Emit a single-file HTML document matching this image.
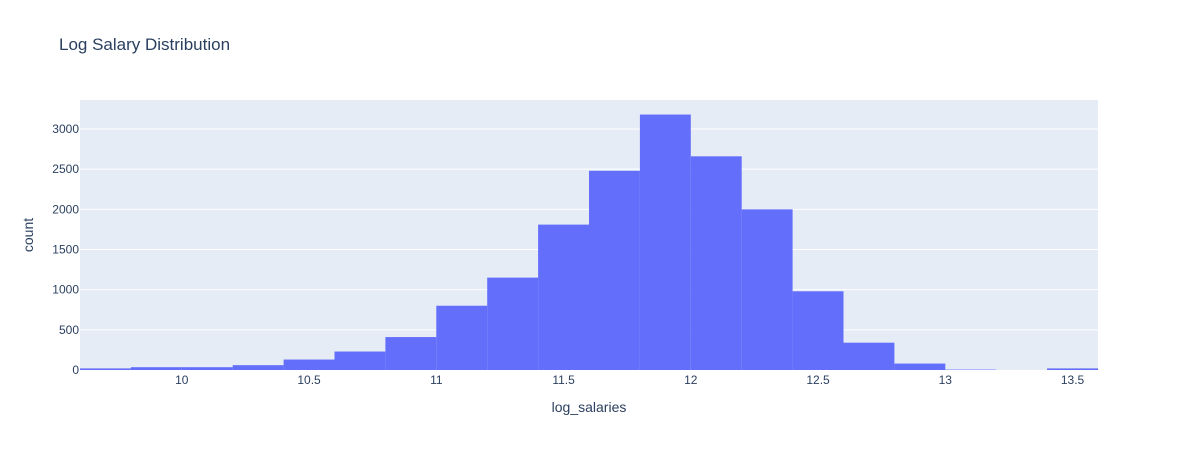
<!DOCTYPE html>
<html><head><meta charset="utf-8"><style>
body{margin:0;background:#fff;font-family:"Liberation Sans",Arial,sans-serif;}
</style></head><body>
<svg id="chart" width="1178" height="450" xmlns="http://www.w3.org/2000/svg">
<rect width="1178" height="450" fill="#fff"/>
<text x="59" y="50" font-size="17" fill="#2a3f5f">Log Salary Distribution</text>
<rect x="80" y="100" width="1018" height="270" fill="#e5ecf6"/>
<g id="grid"></g><g id="bars"></g><g id="ticks"></g>
<text x="589" y="412" font-size="14" fill="#2a3f5f" text-anchor="middle">log_salaries</text>
<text x="33" y="235" font-size="14" fill="#2a3f5f" text-anchor="middle" transform="rotate(-90 33 235)">count</text>
</svg>
<script>
const binStart = 9.6;
const binWidth = 0.2;
const counts = [20,35,35,60,130,230,410,800,1150,1810,2480,3180,2660,2000,980,340,80,5,0,20];
const xTicks = [10,10.5,11,11.5,12,12.5,13,13.5];
const yTicks = [0,500,1000,1500,2000,2500,3000];
const NS="http://www.w3.org/2000/svg";
const x = v => 80 + (v - 9.6) * 254.5;
const y = v => 370 - v * 0.08033;
function mk(tag, attrs, parent){const e=document.createElementNS(NS,tag);for(const k in attrs)e.setAttribute(k,attrs[k]);document.getElementById(parent).appendChild(e);return e;}
yTicks.forEach(t=>{
  if(t>0){const l=mk('line',{x1:80,x2:1098,y1:y(t),y2:y(t),stroke:'#fff','stroke-width':1},'grid');
  
  }
  const tx=mk('text',{x:79-0,y:y(t)+4,'font-size':12,fill:'#2a3f5f','text-anchor':'end'},'ticks');
  tx.setAttribute('x',79);
  tx.textContent=t;
  
  
});
counts.forEach((c,i)=>{
  const x0=x(binStart+i*binWidth), x1=x(binStart+(i+1)*binWidth);
  const r=mk('rect',{x:x0,y:y(c),width:x1-x0,height:370-y(c),fill:'#636efa'},'bars');
  
  
});
xTicks.forEach(t=>{
  const tx=mk('text',{x:x(t),y:384,'font-size':12,fill:'#2a3f5f','text-anchor':'middle'},'ticks');
  tx.textContent=t;
  
  
});
</script>
</body></html>
